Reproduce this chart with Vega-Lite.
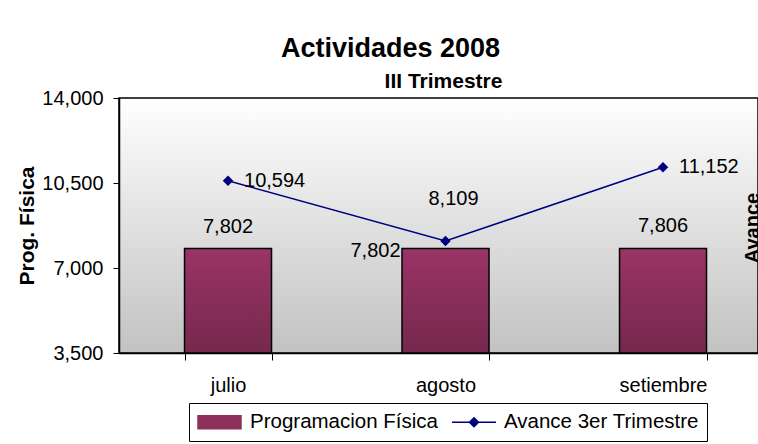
{
  "$schema": "https://vega.github.io/schema/vega-lite/v6.json",
  "width": 639,
  "height": 255,
  "autosize": {"type": "none"},
  "padding": {"left": 119, "top": 98, "right": 0, "bottom": 91},
  "background": "white",
  "view": {
    "stroke": "black",
    "strokeWidth": 1.5,
    "fill": {"gradient": "linear", "x1": 0, "y1": 0, "x2": 0, "y2": 1, "stops": [{"offset": 0, "color": "#ffffff"}, {"offset": 1, "color": "#c2c2c2"}]}
  },
  "title": {"text": "Actividades 2008", "font": "Liberation Sans", "fontSize": 27, "fontWeight": "bold", "color": "black", "anchor": "middle", "dx": -48, "baseline": "alphabetic", "offset": -14},
  "data": {
    "values": [
      {"mes": "julio", "prog": 7802, "avance": 10594},
      {"mes": "agosto", "prog": 7802, "avance": 8109},
      {"mes": "setiembre", "prog": 7806, "avance": 11152}
    ]
  },
  "config": {
    "font": "Liberation Sans",
    "text": {"font": "Liberation Sans", "fontSize": 20, "color": "black"},
    "axis": {"labelFont": "Liberation Sans", "labelFontSize": 20, "labelColor": "black", "titleFont": "Liberation Sans", "titleColor": "black", "domainColor": "black", "tickColor": "black", "grid": false}
  },
  "resolve": {"axis": {"x": "independent", "y": "independent"}},
  "layer": [
    {
      "mark": {"type": "bar", "stroke": "black", "strokeWidth": 1.5, "fill": {"gradient": "linear", "x1": 0, "y1": 0, "x2": 0, "y2": 1, "stops": [{"offset": 0, "color": "#9a3466"}, {"offset": 1, "color": "#76284e"}]}},
      "encoding": {
        "x": {"field": "mes", "type": "nominal", "scale": {"domain": ["julio", "agosto", "setiembre"], "paddingInner": 0.6, "paddingOuter": 0.269, "align": 0.56},
          "axis": {"orient": "bottom", "title": null, "labelAngle": 0, "tickBand": "extent", "tickSize": 7, "labelPadding": 31, "labelBaseline": "alphabetic", "domainWidth": 1.5}},
        "y": {"field": "prog", "type": "quantitative", "scale": {"domain": [3500, 14000], "nice": false, "zero": false},
          "axis": {"orient": "left", "values": [3500, 7000, 10500, 14000], "format": ",.0f", "tickSize": 6, "labelPadding": 10, "domainWidth": 1.5, "title": "Prog. Física", "titleFontSize": 21, "titleFontWeight": "bold", "titleAngle": 270, "titleX": -86, "titleY": 127.5, "titleAlign": "center", "titleBaseline": "alphabetic"}},
        "y2": {"datum": 3500}
      }
    },
    {
      "transform": [{"filter": "datum.mes !== 'agosto'"}],
      "mark": {"type": "text", "align": "center", "baseline": "alphabetic", "dy": -16},
      "encoding": {
        "x": {"field": "mes", "type": "nominal", "axis": null},
        "y": {"field": "prog", "type": "quantitative", "axis": null},
        "text": {"field": "prog", "type": "quantitative", "format": ",.0f"}
      }
    },
    {
      "transform": [{"filter": "datum.mes === 'agosto'"}],
      "mark": {"type": "text", "align": "right", "baseline": "alphabetic", "dx": -45, "dy": 8},
      "encoding": {
        "x": {"field": "mes", "type": "nominal", "axis": null},
        "y": {"field": "prog", "type": "quantitative", "axis": null},
        "text": {"field": "prog", "type": "quantitative", "format": ",.0f"}
      }
    },
    {
      "mark": {"type": "line", "strokeWidth": 1.5, "point": {"shape": "diamond", "filled": true, "size": 110}},
      "encoding": {
        "x": {"field": "mes", "type": "nominal",
          "axis": {"orient": "top", "title": "III Trimestre", "labels": false, "ticks": false, "domain": false, "titleFontSize": 21, "titleFontWeight": "bold", "titleX": 324, "titleY": -11, "titleAlign": "center", "titleBaseline": "alphabetic"}},
        "y": {"field": "avance", "type": "quantitative",
          "axis": {"orient": "right", "title": "Avance", "labels": false, "ticks": false, "domain": false, "titleFontSize": 20, "titleFontWeight": "bold", "titleAngle": 270, "titleX": 0, "titleY": 129.5, "titleAlign": "center", "titleBaseline": "alphabetic"}},
        "color": {
          "datum": "Avance 3er Trimestre",
          "scale": {"domain": ["Programacion Física", "Avance 3er Trimestre"], "range": ["#8e2f5e", "#000080"]},
          "legend": {
            "orient": "none", "legendX": 70, "legendY": 305, "direction": "horizontal", "title": null,
            "strokeColor": "black", "padding": 8, "labelFont": "Liberation Sans", "labelFontSize": 20.5, "labelColor": "black", "labelLimit": 0,
            "columnPadding": 11, "labelOffset": 31, "symbolSize": 400, "symbolStrokeWidth": 1.5,
            "encode": {
              "symbols": {
                "update": {
                  "shape": {"signal": "datum.value === 'Programacion Física' ? 'M-1,-0.65H3.3V0.65H-1Z' : 'M-1,0H3.4M1.2,-0.45L1.65,0L1.2,0.45L0.75,0Z'"},
                  "fill": {"signal": "datum.value === 'Programacion Física' ? '#8a2d5a' : '#000080'"},
                  "stroke": {"signal": "datum.value === 'Programacion Física' ? 'black' : '#000080'"},
                  "strokeWidth": {"value": 1.5},
                  "opacity": {"value": 1}
                }
              }
            }
          }
        }
      }
    },
    {
      "transform": [{"filter": "datum.mes !== 'agosto'"}],
      "mark": {"type": "text", "align": "left", "baseline": "middle", "dx": 16},
      "encoding": {
        "x": {"field": "mes", "type": "nominal", "axis": null},
        "y": {"field": "avance", "type": "quantitative", "axis": null},
        "text": {"field": "avance", "type": "quantitative", "format": ",.0f"}
      }
    },
    {
      "transform": [{"filter": "datum.mes === 'agosto'"}],
      "mark": {"type": "text", "align": "center", "baseline": "alphabetic", "dx": 8, "dy": -36},
      "encoding": {
        "x": {"field": "mes", "type": "nominal", "axis": null},
        "y": {"field": "avance", "type": "quantitative", "axis": null},
        "text": {"field": "avance", "type": "quantitative", "format": ",.0f"}
      }
    }
  ]
}
